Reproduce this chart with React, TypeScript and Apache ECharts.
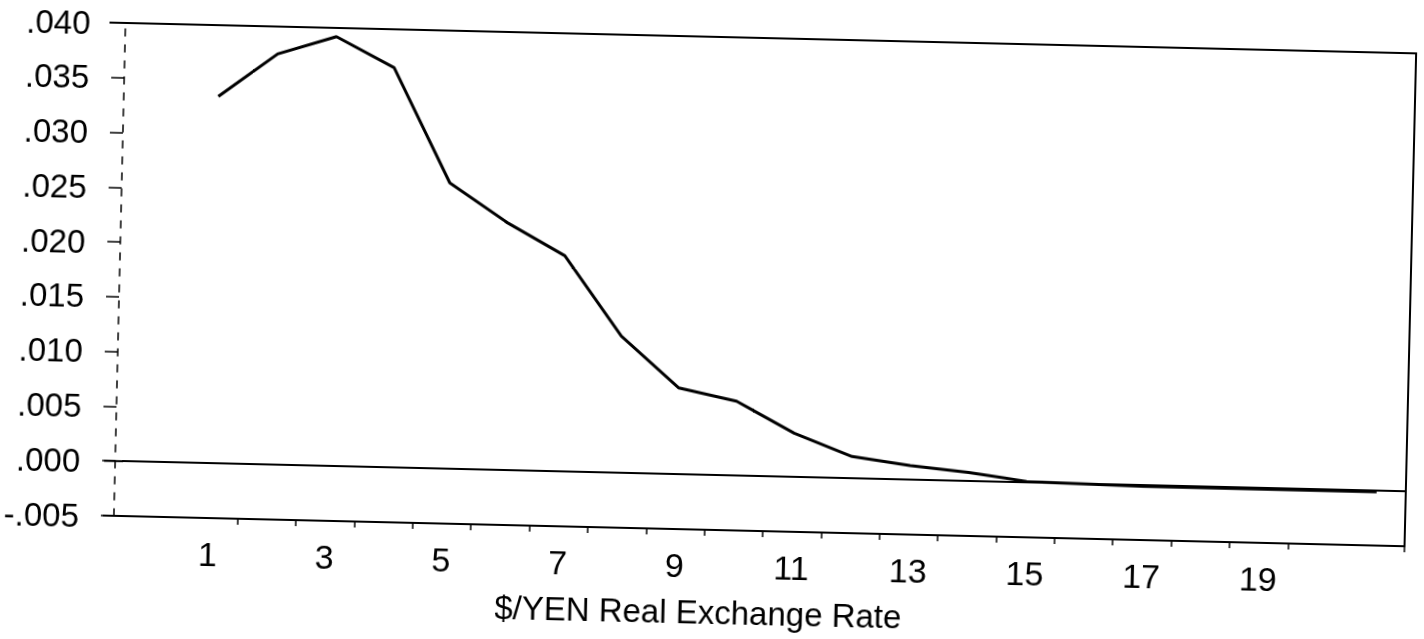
import React, { useEffect, useRef } from "react";
import * as echarts from "echarts";

// x categories (index 0 is the unlabelled slot left of "1")
const xCategories = ["0", "1", "2", "3", "4", "5", "6", "7", "8", "9", "10", "11", "12", "13", "14", "15", "16", "17", "18", "19", "20", "21"];
const labelledCategories = ["1", "3", "5", "7", "9", "11", "13", "15", "17", "19"];
const seriesValues: (number | null)[] = [
  null, 0.0335, 0.0375, 0.0392, 0.0365, 0.0261, 0.0226, 0.0197, 0.0125, 0.0079, 0.0068,
  0.0040, 0.0020, 0.0013, 0.0008, 0.0001, 0.0, -0.0001, -0.0001, -0.0001, -0.0001, -0.0001,
];
const yMin = -0.005;
const yMax = 0.04;
const yStep = 0.005;
const borderLevels = [0.04, 0, -0.005];
const axisTitle = "$/YEN Real Exchange Rate";

const fmtY = (v: number) => {
  const n = Math.round(Math.abs(v) * 1000);
  return (v < -1e-9 ? "-" : "") + "." + String(n).padStart(3, "0");
};

export default function App() {
  const ref = useRef<HTMLDivElement>(null);
  useEffect(() => {
    if (!ref.current) return;
    const chart = echarts.init(ref.current, null, { renderer: "svg" });
    const font = "'Liberation Sans', Arial, sans-serif";
    const black = "#000";
    chart.setOption({
      animation: false,
      backgroundColor: "#fff",
      grid: { left: 133, right: 7, top: 20, bottom: 126, containLabel: false },
      xAxis: [
        {
          type: "category",
          data: xCategories,
          position: "bottom",
          boundaryGap: true,
          axisLine: { show: true, onZero: false, lineStyle: { color: black, width: 2 } },
          axisTick: {
            show: true,
            length: 6,
            interval: (i: number) => i >= 2 && i <= 20,
            lineStyle: { color: black, width: 1.5 },
          },
          axisLabel: {
            interval: (_i: number, v: string) => labelledCategories.includes(v),
            color: black,
            fontSize: 34,
            fontFamily: font,
            margin: 19,
          },
          splitLine: { show: false },
        },
        {
          type: "category",
          data: xCategories,
          position: "top",
          boundaryGap: true,
          axisLine: { show: true, onZero: false, lineStyle: { color: black, width: 2 } },
          axisTick: { show: false },
          axisLabel: { show: false },
          splitLine: { show: false },
        },
      ],
      yAxis: [
        {
          type: "value",
          min: yMin,
          max: yMax,
          interval: yStep,
          offset: 7,
          axisLine: { show: true, onZero: false, lineStyle: { color: black, width: 1.5, type: [7, 9] } },
          axisTick: { show: true, length: 13, lineStyle: { color: black, width: 1.5 } },
          axisLabel: { formatter: fmtY, color: black, fontSize: 33, fontFamily: font, margin: 35 },
          splitLine: { show: false },
        },
        {
          type: "value",
          min: yMin,
          max: yMax,
          interval: yStep,
          position: "right",
          axisLine: { show: true, onZero: false, lineStyle: { color: black, width: 2 } },
          axisTick: { show: false },
          axisLabel: { show: false },
          splitLine: { show: false },
        },
      ],
      series: [
        {
          type: "line",
          data: seriesValues,
          symbol: "none",
          connectNulls: false,
          lineStyle: { color: black, width: 3 },
          markLine: {
            silent: true,
            symbol: "none",
            label: { show: false },
            lineStyle: { color: black, type: "solid", width: 2 },
            data: [{ yAxis: 0 }],
          },
        },
      ],
    });

    const gridLeft = chart.convertToPixel({ xAxisIndex: 0 }, 0) as number;
    const bandHalf = ((chart.convertToPixel({ xAxisIndex: 0 }, 1) as number) - gridLeft) / 2;
    const leftEdge = gridLeft - bandHalf;
    const segs = borderLevels.map((lv, k) => {
      const y = chart.convertToPixel({ yAxisIndex: 0 }, lv) as number;
      return {
        type: "line",
        shape: { x1: k === 0 ? 110 : 115, y1: y, x2: leftEdge + 1, y2: y },
        style: { stroke: black, lineWidth: 2 },
        silent: true,
      };
    });
    chart.setOption({
      graphic: [
        ...segs,
        {
          type: "text",
          x: 712,
          y: 595,
          silent: true,
          style: {
            text: axisTitle,
            fill: black,
            font: `33px ${font}`,
            align: "center",
            verticalAlign: "middle",
          },
        },
      ],
    });

    return () => chart.dispose();
  }, []);

  return (
    <div
      ref={ref}
      style={{
        position: "fixed",
        left: 0,
        top: 0,
        width: 1424,
        height: 639,
        transform: "rotate(1.35deg)",
        transformOrigin: "0 0",
        background: "#fff",
      }}
    />
  );
}
